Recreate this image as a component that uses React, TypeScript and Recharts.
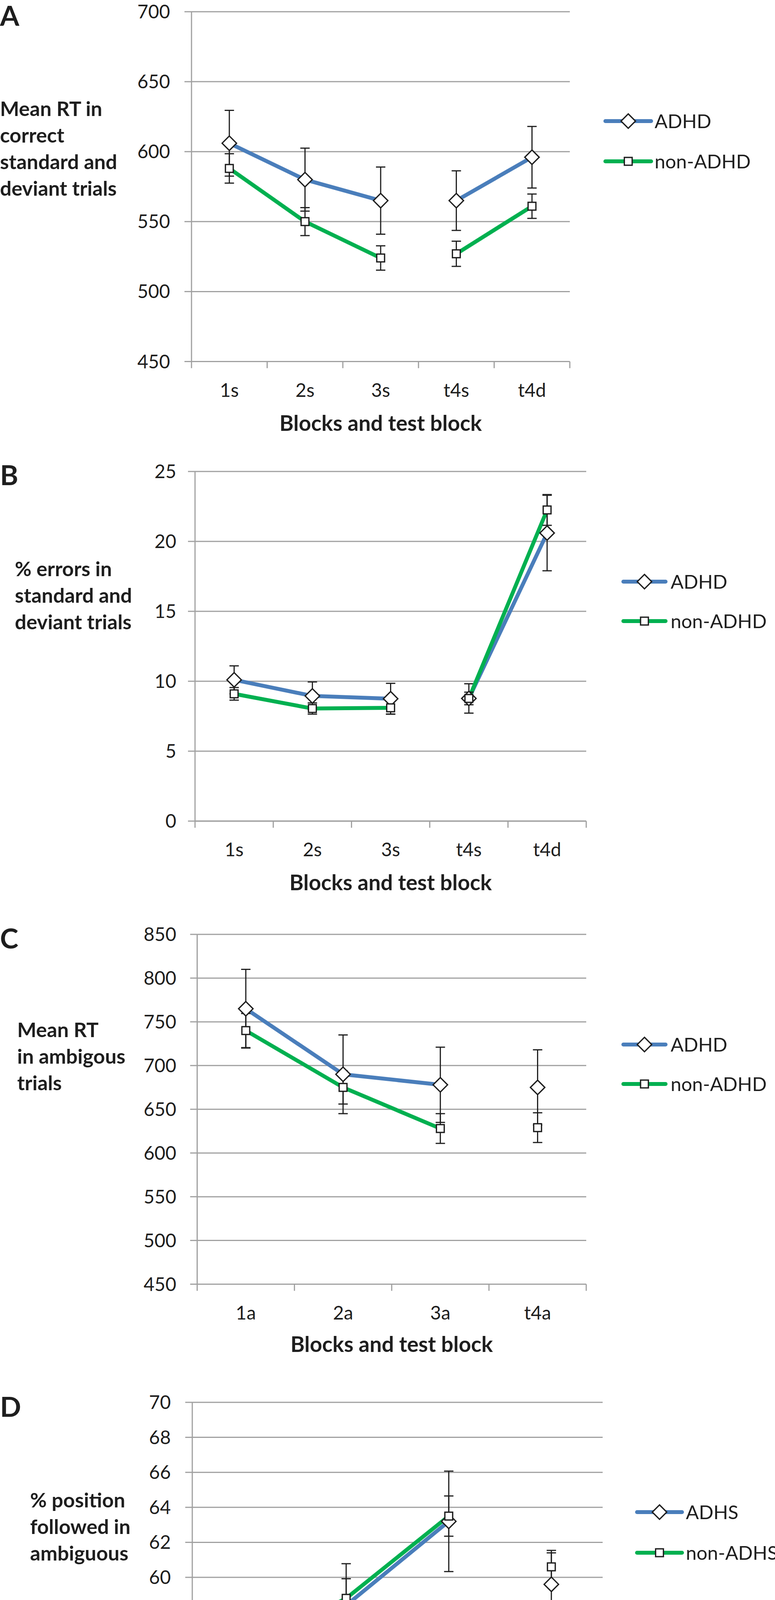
import React from 'react';
import { LineChart, Line, XAxis, YAxis, CartesianGrid, ErrorBar } from 'recharts';

const FONT = 'Lato, "Open Sans", sans-serif';
const BLUE = '#4A7EBB';
const GREEN = '#00B050';
const GRID = '#A0A0A0';
const INK = '#1E1E1E';
const PAGE_W = 1983;
const PAGE_H = 4676;

// A: mean RT in correct standard and deviant trials
const catsA = ['1s', '2s', '3s', 't4s', 't4d'];
const adhdA = [606, 580, 565, 565, 596];
const adhdErrA = [23.5, 22.5, 24, 21.3, 22];
const nonA = [588, 550, 524, 527, 561];
const nonErrA = [10.5, 10, 8.7, 9, 8.7];
const ticksA = [450, 500, 550, 600, 650, 700];

// B: % errors in standard and deviant trials
const catsB = ['1s', '2s', '3s', 't4s', 't4d'];
const adhdB = [10.1, 8.95, 8.75, 8.77, 20.6];
const adhdErrB = [1.0, 1.0, 1.1, 1.05, 2.7];
const nonB = [9.1, 8.05, 8.1, 8.77, 22.25];
const nonErrB = [0.45, 0.4, 0.45, 0.45, 1.1];
const ticksB = [0, 5, 10, 15, 20, 25];

// C: mean RT in ambiguous trials
const catsC = ['1a', '2a', '3a', 't4a'];
const adhdC = [765, 690, 678, 675];
const adhdErrC = [45, 45, 43, 43];
const nonC = [740, 675, 628, 629];
const nonErrC = [19.5, 19, 17, 17];
const ticksC = [450, 500, 550, 600, 650, 700, 750, 800, 850];

// D: % position followed in ambiguous trials
const catsD = ['1a', '2a', '3a', 't4a'];
const adhsD = [55.5, 58.4, 63.2, 59.6];
const adhsErrD = [2.03, 2.38, 2.87, 1.8];
const nonD = [55.8, 58.8, 63.5, 60.6];
const nonErrD = [0.95, 1.12, 1.15, 0.94];
const ticksD = [50, 52, 54, 56, 58, 60, 62, 64, 66, 68, 70];

const namesHD = ['ADHD', 'non-ADHD'];
const namesHS = ['ADHS', 'non-ADHS'];

// connected runs of categories (training blocks vs test block)
const segsFive = [[0, 2], [3, 4]];
const segsFour = [[0, 2]];

function buildRows(cats, a, aErr, b, bErr, segs) {
  return cats.map((c, i) => {
    const row: any = { cat: c, a: a[i], aErr: aErr[i], b: b[i], bErr: bErr[i] };
    segs.forEach(([s, e], k) => {
      const inside = i >= s && i <= e;
      row[`a${k}`] = inside ? a[i] : null;
      row[`b${k}`] = inside ? b[i] : null;
    });
    return row;
  });
}

const panels = [
  {
    letter: 'A', letterBase: 66,
    rows: buildRows(catsA, adhdA, adhdErrA, nonA, nonErrA, segsFive), segs: segsFive,
    ticks: ticksA, names: namesHD,
    left: 490, right: 1458, top: 29.5, bottom: 925, tickRight: 435,
    label: ['Mean RT in', 'correct', 'standard and', 'deviant trials'], labelX: 0, labelBase: 297,
    legend: { x1: 1549, x2: 1666, tx: 1675, y: [310, 413] },
    titleY: 1083,
  },
  {
    letter: 'B', letterBase: 1242,
    rows: buildRows(catsB, adhdB, adhdErrB, nonB, nonErrB, segsFive), segs: segsFive,
    ticks: ticksB, names: namesHD,
    left: 499, right: 1500, top: 1207, bottom: 2102, tickRight: 451,
    label: ['% errors in', 'standard and', 'deviant trials'], labelX: 38, labelBase: 1475,
    legend: { x1: 1595, x2: 1703, tx: 1716, y: [1489, 1590] },
    titleY: 2259,
  },
  {
    letter: 'C', letterBase: 2428,
    rows: buildRows(catsC, adhdC, adhdErrC, nonC, nonErrC, segsFour), segs: segsFour,
    ticks: ticksC, names: namesHD,
    left: 504.5, right: 1500, top: 2392, bottom: 3287.5, tickRight: 451,
    label: ['Mean RT', 'in ambigous', 'trials'], labelX: 44, labelBase: 2655,
    legend: { x1: 1595, x2: 1703, tx: 1716, y: [2674, 2775] },
    titleY: 3441,
  },
  {
    letter: 'D', letterBase: 3627,
    rows: buildRows(catsD, adhsD, adhsErrD, nonD, nonErrD, segsFour), segs: segsFour,
    ticks: ticksD, names: namesHS,
    left: 492, right: 1542, top: 3590, bottom: 4486, tickRight: 437,
    label: ['% position', 'followed in', 'ambiguous'], labelX: 77, labelBase: 3859,
    legend: { x1: 1630, x2: 1745, tx: 1755, y: [3871, 3975] },
    titleY: 4644,
  },
];

const PAD_TOP = 40;
const X_AXIS_H = 130;
const Y_AXIS_W = 200;
const TICK_FS = 48;
const LABEL_FS = 52;
const TITLE_FS = 55;
const LEGEND_FS = 49;
const LINE_GAP = 68;

function Diamond({ cx, cy, r = 18.5 }) {
  return (
    <polygon
      points={`${cx},${cy - r} ${cx + r},${cy} ${cx},${cy + r} ${cx - r},${cy}`}
      fill="#fff" stroke={INK} strokeWidth={3.3}
    />
  );
}

function Square({ cx, cy, s = 20 }) {
  return <rect x={cx - s / 2} y={cy - s / 2} width={s} height={s} fill="#fff" stroke={INK} strokeWidth={3.3} />;
}

const diamondDot = (props) => {
  const { cx, cy, index } = props;
  if (cx == null || cy == null) return <g key={`d-${index}`} />;
  return <g key={`d-${index}`}><Diamond cx={cx} cy={cy} /></g>;
};

const squareDot = (props) => {
  const { cx, cy, index } = props;
  if (cx == null || cy == null) return <g key={`s-${index}`} />;
  return <g key={`s-${index}`}><Square cx={cx} cy={cy} /></g>;
};

function Panel({ p }) {
  const plotW = p.right - p.left;
  const plotH = p.bottom - p.top;
  const n = p.rows.length;
  const bw = plotW / n;
  const axisY = PAD_TOP + plotH;
  const height = plotH + PAD_TOP + X_AXIS_H;

  const xTick = (props) => {
    const { x, payload } = props;
    const idx = payload && payload.index != null ? payload.index : props.index;
    return (
      <g>
        <line x1={x - bw / 2} y1={axisY} x2={x - bw / 2} y2={axisY + 17} stroke={GRID} strokeWidth={3} />
        {idx === n - 1 && (
          <line x1={x + bw / 2} y1={axisY} x2={x + bw / 2} y2={axisY + 17} stroke={GRID} strokeWidth={3} />
        )}
        <text x={x} y={axisY + 73 + TICK_FS * 0.358} textAnchor="middle" fontSize={TICK_FS} fontFamily={FONT} fill={INK}>
          {payload.value}
        </text>
      </g>
    );
  };

  return (
    <div style={{ position: 'absolute', left: 0, top: p.top - PAD_TOP }}>
      <LineChart
        width={PAGE_W}
        height={height}
        data={p.rows}
        margin={{ top: PAD_TOP, right: PAGE_W - p.right, bottom: 0, left: p.left - Y_AXIS_W }}
      >
        <CartesianGrid vertical={false} stroke={GRID} strokeWidth={3} />
        <XAxis
          dataKey="cat"
          type="category"
          interval={0}
          height={X_AXIS_H}
          padding={{ left: bw / 2, right: bw / 2 }}
          axisLine={{ stroke: GRID, strokeWidth: 3 }}
          tickLine={false}
          tick={xTick}
        />
        <YAxis
          type="number"
          width={Y_AXIS_W}
          domain={[p.ticks[0], p.ticks[p.ticks.length - 1]]}
          ticks={p.ticks}
          interval={0}
          stroke={GRID}
          axisLine={{ stroke: GRID, strokeWidth: 3 }}
          tickLine={{ stroke: GRID, strokeWidth: 3 }}
          tickSize={18}
          tickMargin={p.left - 18 - p.tickRight}
          tick={{ fill: INK, fontSize: TICK_FS, fontFamily: FONT }}
        />
        {p.segs.map((_, k) => (
          <Line key={`a${k}`} dataKey={`a${k}`} stroke={BLUE} strokeWidth={10} dot={false} activeDot={false}
            strokeLinejoin="round" connectNulls={false} isAnimationActive={false} />
        ))}
        <Line dataKey="a" stroke="none" dot={diamondDot} activeDot={false} isAnimationActive={false}>
          <ErrorBar dataKey="aErr" direction="y" width={12} stroke={INK} strokeWidth={3} />
        </Line>
        {p.segs.map((_, k) => (
          <Line key={`b${k}`} dataKey={`b${k}`} stroke={GREEN} strokeWidth={10} dot={false} activeDot={false}
            strokeLinejoin="round" connectNulls={false} isAnimationActive={false} />
        ))}
        <Line dataKey="b" stroke="none" dot={squareDot} activeDot={false} isAnimationActive={false}>
          <ErrorBar dataKey="bErr" direction="y" width={12} stroke={INK} strokeWidth={3} />
        </Line>
      </LineChart>
    </div>
  );
}

function Annotations({ p }) {
  const lg = p.legend;
  const mid = (lg.x1 + lg.x2) / 2;
  return (
    <g fontFamily={FONT} fill={INK}>
      <text x={0} y={p.letterBase} fontSize={71} fontWeight={700}>{p.letter}</text>
      {p.label.map((line, i) => (
        <text key={i} x={p.labelX} y={p.labelBase + i * LINE_GAP} fontSize={LABEL_FS} fontWeight={700}>
          {line}
        </text>
      ))}
      <text x={(p.left + p.right) / 2} y={p.titleY + TITLE_FS * 0.358} fontSize={TITLE_FS} fontWeight={700} textAnchor="middle">
        Blocks and test block
      </text>
      {p.names.map((name, i) => (
        <g key={name}>
          <line x1={lg.x1} y1={lg.y[i]} x2={lg.x2} y2={lg.y[i]} stroke={i === 0 ? BLUE : GREEN} strokeWidth={10} strokeLinecap="round" />
          {i === 0 ? <Diamond cx={mid} cy={lg.y[i]} /> : <Square cx={mid} cy={lg.y[i]} />}
          <text x={lg.tx} y={lg.y[i] + LEGEND_FS * 0.358} fontSize={LEGEND_FS}>{name}</text>
        </g>
      ))}
    </g>
  );
}

export default function App() {
  return (
    <div style={{ position: 'absolute', left: 0, top: 0, width: PAGE_W, height: PAGE_H, background: '#fff' }}>
      {panels.map((p) => <Panel key={p.letter} p={p} />)}
      <svg width={PAGE_W} height={PAGE_H} style={{ position: 'absolute', left: 0, top: 0, pointerEvents: 'none' }}>
        {panels.map((p) => <Annotations key={p.letter} p={p} />)}
      </svg>
    </div>
  );
}
